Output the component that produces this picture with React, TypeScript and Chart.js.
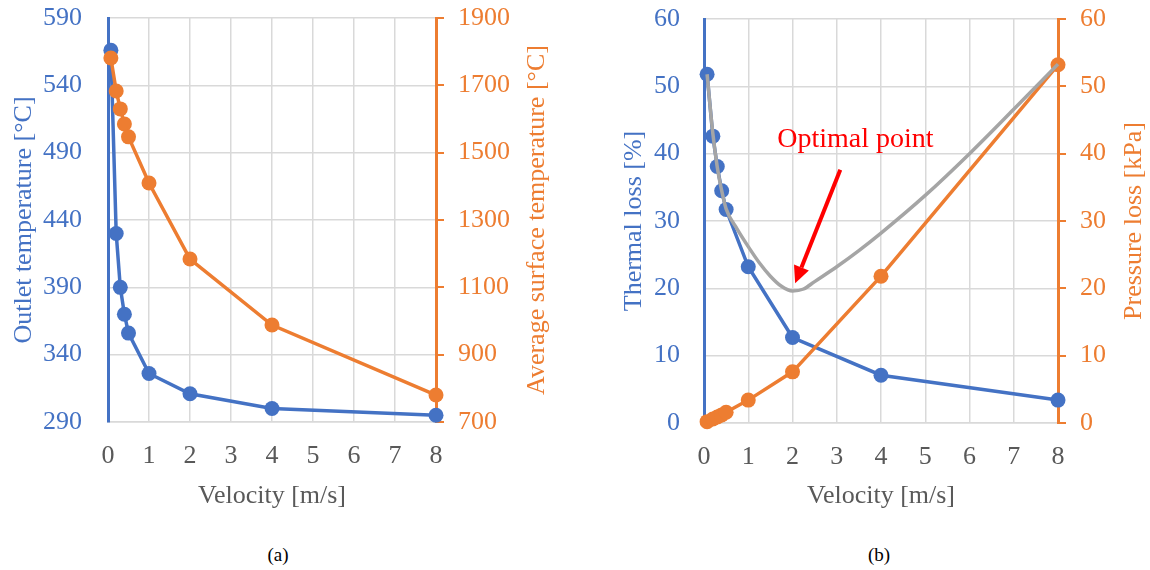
import React, { useEffect, useRef } from "react";
import { Chart, registerables } from "chart.js";

Chart.register(...registerables);

// ---------- data ----------
const velocity = [0.07, 0.2, 0.3, 0.4, 0.5, 1, 2, 4, 8];
const outletTemperature = [566, 430, 390, 370, 356, 326, 311, 300, 295];
const surfaceTemperature = [1781, 1683, 1630, 1585, 1547, 1410, 1184, 988, 780];
const thermalLoss = [51.8, 42.6, 38.1, 34.5, 31.7, 23.2, 12.7, 7.1, 3.4];
const pressureLoss = [0.2, 0.6, 0.9, 1.2, 1.6, 3.4, 7.6, 21.8, 53.2];
const combinedVelocity = [0.07, 0.2, 0.3, 0.4, 0.5, 0.75, 1, 1.25, 1.5, 1.75, 2, 2.25, 2.5, 3, 3.5, 4, 5, 6, 7, 8];
const combinedLoss = [51.8, 43, 38, 34.5, 31.8, 28.8, 26.2, 23.8, 21.8, 20.3, 19.6, 19.9, 21.0, 23.2, 25.6, 28.2, 33.8, 40, 46.6, 53.3];

const xRange = [0, 8, 1];
const outletRange = [290, 590, 50];
const surfaceRange = [700, 1900, 200];
const lossRange = [0, 60, 10];

const annotationText = "Optimal point";
const annotationTextPos = [3.42, 41.0];
const arrowFrom = [3.08, 37.6];
const arrowTo = [2.06, 20.75];

// ---------- style ----------
const FONT = '"Liberation Serif", "Times New Roman", serif';
const BLUE = "#4472C4";
const ORANGE = "#ED7D31";
const GRAY = "#A5A5A5";
const GRID = "#D9D9D9";
const TEXT = "#595959";
const f26 = { family: FONT, size: 26 };

const toPoints = (xs: number[], ys: number[]) => xs.map((x, i) => ({ x, y: ys[i] }));
const plain = (v: any) => String(v);

const rightTitlePlugin = {
  id: "rightTitle",
  afterDraw(chart: any, _args: any, opts: any) {
    const { ctx, chartArea } = chart;
    ctx.save();
    ctx.translate(chartArea.right + opts.offset, (chartArea.top + chartArea.bottom) / 2);
    ctx.rotate(-Math.PI / 2);
    ctx.font = `26px ${FONT}`;
    ctx.fillStyle = opts.color;
    ctx.textAlign = "center";
    ctx.textBaseline = "middle";
    ctx.fillText(opts.text, 0, 0);
    ctx.restore();
  },
};

const annotationPlugin = {
  id: "optimalAnnotation",
  afterDraw(chart: any) {
    const { ctx } = chart;
    const xs = chart.scales.x;
    const ys = chart.scales.y;
    const tx = xs.getPixelForValue(annotationTextPos[0]);
    const ty = ys.getPixelForValue(annotationTextPos[1]);
    const x0 = xs.getPixelForValue(arrowFrom[0]);
    const y0 = ys.getPixelForValue(arrowFrom[1]);
    const x1 = xs.getPixelForValue(arrowTo[0]);
    const y1 = ys.getPixelForValue(arrowTo[1]);
    ctx.save();
    ctx.fillStyle = "#FF0000";
    ctx.font = `28px ${FONT}`;
    ctx.textAlign = "center";
    ctx.textBaseline = "alphabetic";
    ctx.fillText(annotationText, tx, ty);
    const ang = Math.atan2(y1 - y0, x1 - x0);
    const headLen = 17;
    const headHalf = 8;
    const bx = x1 - headLen * Math.cos(ang);
    const by = y1 - headLen * Math.sin(ang);
    ctx.strokeStyle = "#FF0000";
    ctx.lineWidth = 4;
    ctx.beginPath();
    ctx.moveTo(x0, y0);
    ctx.lineTo(bx, by);
    ctx.stroke();
    ctx.beginPath();
    ctx.moveTo(x1, y1);
    ctx.lineTo(bx + headHalf * Math.sin(ang), by - headHalf * Math.cos(ang));
    ctx.lineTo(bx - headHalf * Math.sin(ang), by + headHalf * Math.cos(ang));
    ctx.closePath();
    ctx.fill();
    ctx.restore();
  },
};

function lineDataset(label: string, xs: number[], ys: number[], color: string, axis: string, order: number, markers = true) {
  return {
    label,
    data: toPoints(xs, ys),
    yAxisID: axis,
    borderColor: color,
    backgroundColor: color,
    borderWidth: 3.5,
    pointRadius: markers ? 7.5 : 0,
    pointBorderWidth: 0,
    pointHoverRadius: 0,
    order,
    clip: false as any,
    tension: 0,
  };
}

function noPad(s: any) {
  s.paddingTop = 0;
  s.paddingBottom = 0;
  s.paddingLeft = 0;
  s.paddingRight = 0;
}

function xScale(height: number) {
  return {
    type: "linear",
    min: xRange[0],
    max: xRange[1],
    ticks: { stepSize: xRange[2], color: TEXT, font: f26, padding: 19, callback: plain },
    grid: { color: GRID, lineWidth: 1.5, drawTicks: false },
    border: { color: GRID, width: 1.5 },
    title: { display: true, text: "Velocity [m/s]", color: TEXT, font: f26, padding: { top: 0, bottom: 8 } },
    afterFit: (s: any) => {
      s.height = height;
      noPad(s);
    },
  };
}

function leftScale(range: number[], title: string, width: number, labelPad: number, titlePad: number) {
  return {
    type: "linear",
    position: "left",
    min: range[0],
    max: range[1],
    ticks: { stepSize: range[2], color: BLUE, font: f26, padding: labelPad, callback: plain },
    grid: { color: GRID, lineWidth: 1.5, drawTicks: false },
    border: { color: BLUE, width: 3 },
    title: { display: true, text: title, color: BLUE, font: f26, padding: { top: titlePad, bottom: 0 } },
    afterFit: (s: any) => {
      s.width = width;
      noPad(s);
    },
  };
}

function rightScale(range: number[], width: number, labelPad: number) {
  return {
    type: "linear",
    position: "right",
    min: range[0],
    max: range[1],
    ticks: { stepSize: range[2], color: ORANGE, font: f26, padding: labelPad, callback: plain },
    grid: { drawOnChartArea: false, drawTicks: true, tickLength: 8, color: ORANGE, lineWidth: 2 },
    border: { color: ORANGE, width: 3 },
    afterFit: (s: any) => {
      s.width = width;
      noPad(s);
    },
  };
}

const W = 575;
const H = 520;

function configA(): any {
  return {
    type: "line",
    data: {
      datasets: [
        lineDataset("Average surface temperature", velocity, surfaceTemperature, ORANGE, "y1", 0),
        lineDataset("Outlet temperature", velocity, outletTemperature, BLUE, "y", 1),
      ],
    },
    options: {
      animation: false,
      responsive: false,
      layout: { padding: { top: 18, left: 0, right: 0, bottom: 0 } },
      plugins: {
        legend: { display: false },
        tooltip: { enabled: false },
        rightTitle: { text: "Average surface temperature [°C]", color: ORANGE, offset: 101 },
      },
      scales: {
        x: xScale(H - 422),
        y: leftScale(outletRange, "Outlet temperature [°C]", 108, 26, 9),
        y1: rightScale(surfaceRange, W - 436, 14),
      },
    },
    plugins: [rightTitlePlugin],
  };
}

function configB(): any {
  return {
    type: "line",
    data: {
      datasets: [
        { ...lineDataset("Total", combinedVelocity, combinedLoss, GRAY, "y", 0, false), cubicInterpolationMode: "monotone", borderWidth: 3.5 },
        lineDataset("Pressure loss", velocity, pressureLoss, ORANGE, "y1", 1),
        lineDataset("Thermal loss", velocity, thermalLoss, BLUE, "y", 2),
      ],
    },
    options: {
      animation: false,
      responsive: false,
      layout: { padding: { top: 19, left: 0, right: 0, bottom: 0 } },
      plugins: {
        legend: { display: false },
        tooltip: { enabled: false },
        rightTitle: { text: "Pressure loss [kPa]", color: ORANGE, offset: 76.5 },
      },
      scales: {
        x: xScale(H - 423),
        y: leftScale(lossRange, "Thermal loss [%]", 129, 24, 44),
        y1: rightScale(lossRange, W - 483, 14),
      },
    },
    plugins: [rightTitlePlugin, annotationPlugin],
  };
}

function Panel({ make, left }: { make: () => any; left: number }) {
  const ref = useRef<HTMLCanvasElement>(null);
  useEffect(() => {
    const chart = new Chart(ref.current as HTMLCanvasElement, make());
    return () => chart.destroy();
  }, []);
  return (
    <canvas
      ref={ref}
      width={W}
      height={H}
      style={{ position: "absolute", left, top: 0, width: W, height: H }}
    />
  );
}

const captionStyle: React.CSSProperties = {
  position: "absolute",
  width: 60,
  top: 543,
  height: 24,
  lineHeight: "24px",
  textAlign: "center",
  fontFamily: FONT,
  fontSize: 19,
  color: "#000",
};

export default function App() {
  return (
    <div style={{ position: "fixed", left: 0, top: 0, width: 1150, height: 570, background: "#fff", overflow: "hidden" }}>
      <Panel make={configA} left={0} />
      <Panel make={configB} left={575} />
      <div style={{ ...captionStyle, left: 278 - 30 }}>(a)</div>
      <div style={{ ...captionStyle, left: 879 - 30 }}>(b)</div>
    </div>
  );
}
